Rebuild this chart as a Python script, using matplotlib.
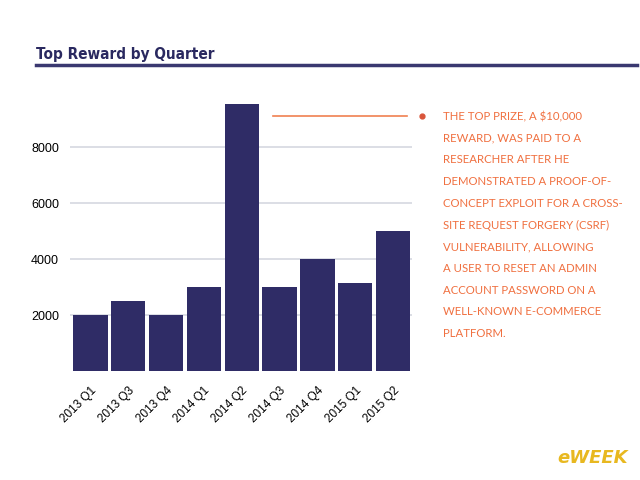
import matplotlib.pyplot as plt
from matplotlib.lines import Line2D

# ----- data -----
quarters = ["2013 Q1", "2013 Q3", "2013 Q4", "2014 Q1", "2014 Q2",
            "2014 Q3", "2014 Q4", "2015 Q1", "2015 Q2"]
rewards = [2000, 2500, 2000, 3000, 9560, 3000, 4000, 3133, 5000]
yticks = [2000, 4000, 6000, 8000]

note_lines = [
    "THE TOP PRIZE, A $10,000",
    "REWARD, WAS PAID TO A",
    "RESEARCHER AFTER HE",
    "DEMONSTRATED A PROOF-OF-",
    "CONCEPT EXPLOIT FOR A CROSS-",
    "SITE REQUEST FORGERY (CSRF)",
    "VULNERABILITY, ALLOWING",
    "A USER TO RESET AN ADMIN",
    "ACCOUNT PASSWORD ON A",
    "WELL-KNOWN E-COMMERCE",
    "PLATFORM.",
]

navy = "#2f2c66"
orange = "#f07040"

fig = plt.figure(figsize=(6.4, 4.8), dpi=100)
fig.patch.set_facecolor("white")

# title + underline
fig.text(36 / 640, 1 - 55 / 480, "Top Reward by Quarter", fontsize=11,
         fontweight="bold", fontstretch="condensed", color="#2a2960",
         va="center", ha="left", family=["DejaVu Sans"])
fig.add_artist(Line2D([36 / 640, 637 / 640], [1 - 65 / 480, 1 - 65 / 480],
                      color="#3a3870", lw=2.5))

# ----- bars -----
ax = fig.add_axes([70 / 640, 1 - 371 / 480, 342 / 640, 271 / 480])
x = list(range(len(quarters)))
ax.bar(x, rewards, width=0.91, color=navy, zorder=3, clip_on=False)
ax.set_xlim(-0.54, 8.5)
ax.set_ylim(0, 9700)
ax.set_yticks(yticks)
ax.set_yticklabels([str(v) for v in yticks], fontsize=9,
                   family=["Liberation Sans", "DejaVu Sans"])
ax.set_xticks(x)
ax.set_xticklabels(quarters, rotation=45, ha="right", rotation_mode="anchor",
                   fontsize=8.5, family=["Liberation Sans", "DejaVu Sans"])
ax.tick_params(length=0, pad=8)
ax.tick_params(axis="x", pad=10)
ax.grid(axis="y", color="#d5d8e0", lw=1.2, zorder=0)
for s in ax.spines.values():
    s.set_visible(False)

# ----- annotation -----
yl = 1 - 116 / 480
fig.add_artist(Line2D([273 / 640, 407 / 640], [yl, yl], color="#f08050", lw=1.2))
fig.add_artist(Line2D([421.7 / 640], [yl], marker="o", ms=3.5, color="#d9553a",
                      lw=0))
for i, line in enumerate(note_lines):
    fig.text(443 / 640, 1 - (116.5 + 21.7 * i) / 480, line, fontsize=8.2,
             color=orange, va="center", ha="left",
             family=["Lato", "DejaVu Sans"])

# logo text
fig.text(628 / 640, 1 - 458 / 480, "eWEEK", fontsize=13, fontweight="bold",
         fontstyle="italic", color="#e8b820", ha="right", va="center")

fig.savefig("out.png", dpi=100)
